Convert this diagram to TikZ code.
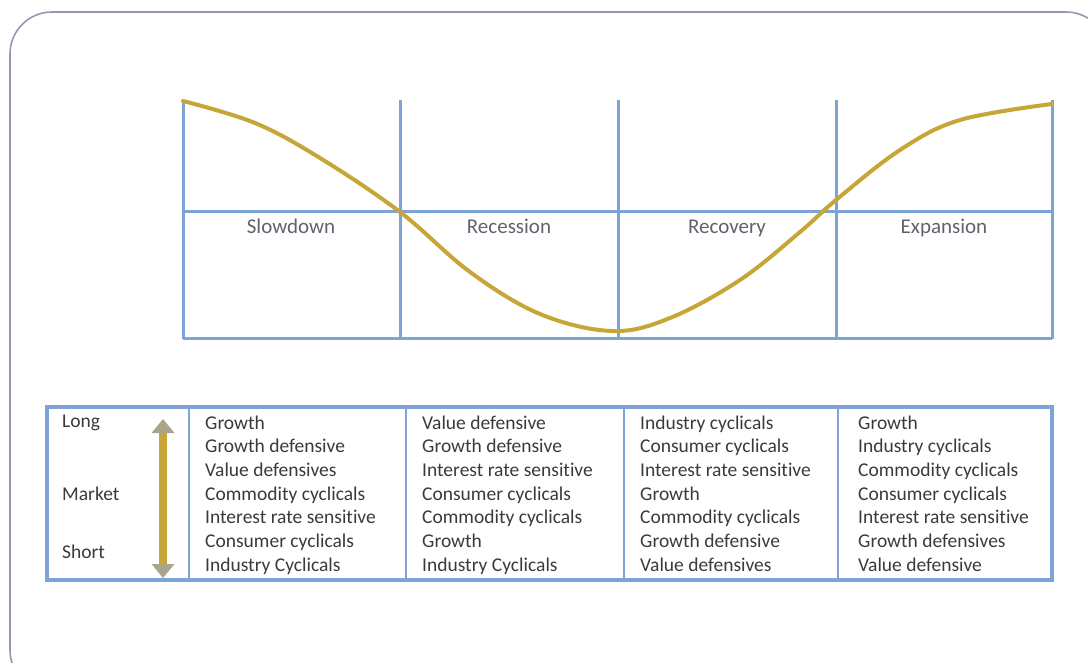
\documentclass[tikz,border=0pt]{standalone}
\usepackage{fontspec}
\setmainfont{Carlito}[Ligatures=NoCommon]
\usetikzlibrary{arrows.meta}
\definecolor{gridblue}{RGB}{126,164,214}
\definecolor{curvegold}{RGB}{198,166,54}
\definecolor{framegray}{RGB}{150,150,172}
\definecolor{labelgray}{RGB}{96,98,108}
\definecolor{textgray}{RGB}{58,58,60}
\definecolor{headgray}{RGB}{170,164,140}
\begin{document}
\begin{tikzpicture}[x=1pt,y=-1pt,
  gridline/.style={gridblue, line width=3pt},
  cycle/.style={curvegold, line width=4pt, line cap=round},
  phase/.style={labelgray, font=\fontsize{21}{24}\selectfont, anchor=base, inner sep=0pt},
  cell/.style={textgray, font=\fontsize{19.5}{23}\selectfont, anchor=base west, inner sep=0pt},
  sidelabel/.style={textgray, font=\fontsize{19.5}{23}\selectfont, anchor=west, inner sep=0pt}]
\useasboundingbox (0,0) rectangle (1088,663);

% outer rounded frame, partly running off the page
\begin{scope}
  \clip (0,0) rectangle (1088,663);
  \draw[framegray, line width=1.6pt, rounded corners=42pt] (10,12) rectangle (1108,692);
\end{scope}

% phase grid
\foreach \i/\x in {0/183,1/400,2/618,3/836,4/1052}{
  \coordinate (top\i) at (\x,100);
  \coordinate (mid\i) at (\x,212);
  \coordinate (bot\i) at (\x,339);
  \draw[gridline] (top\i) -- (bot\i);
}
\draw[gridline] (mid0) -- (mid4);
\draw[gridline] (bot0) -- (bot4);

% phase names
\node[phase] (slow) at (291,234) {Slowdown};
\node[phase] (rec)  at (509,234) {Recession};
\node[phase] (recv) at (727,234) {Recovery};
\node[phase] (exp)  at (944,234) {Expansion};

% business cycle curve
\draw[cycle] plot[smooth, tension=0.6] coordinates {
  (183,101) (255,123) (320,158) (400,212) (470,272) (540,314)
  (612,331) (670,318) (740,280) (800,232) (836,200) (900,150)
  (960,120) (1052,104)};

% sector table frame
\draw[gridblue, line width=3.2pt] (47,407) rectangle (1052,580);
\foreach \x in {189,406,624,838}
  \draw[gridblue, line width=2.4pt] (\x,407) -- (\x,580);

% horizon labels and arrow
\node[sidelabel] (long) at (62,423) {Long};
\node[sidelabel] (mkt)  at (62,494) {Market};
\node[sidelabel] (short) at (62,552) {Short};
\coordinate (arrtop) at (163,419);
\coordinate (arrbot) at (163,578);
\draw[curvegold, line width=8pt, shorten <=10pt, shorten >=10pt] (arrtop) -- (arrbot);
\fill[headgray] (arrtop) -- ++(11.5,14) -- ++(-23,0) -- cycle;
\fill[headgray] (arrbot) -- ++(11.5,-14) -- ++(-23,0) -- cycle;

% sector rankings per phase
\foreach \col/\x/\list in {
  0/205/{Growth,Growth defensive,Value defensives,Commodity cyclicals,Interest rate sensitive,Consumer cyclicals,Industry Cyclicals},
  1/422/{Value defensive,Growth defensive,Interest rate sensitive,Consumer cyclicals,Commodity cyclicals,Growth,Industry Cyclicals},
  2/640/{Industry cyclicals,Consumer cyclicals,Interest rate sensitive,Growth,Commodity cyclicals,Growth defensive,Value defensives},
  3/858/{Growth,Industry cyclicals,Commodity cyclicals,Consumer cyclicals,Interest rate sensitive,Growth defensives,Value defensive}}{
  \foreach \txt [count=\r from 0] in \list
    \node[cell] (c\col r\r) at (\x,429+23.7*\r) {\txt};
}
\end{tikzpicture}
\end{document}
